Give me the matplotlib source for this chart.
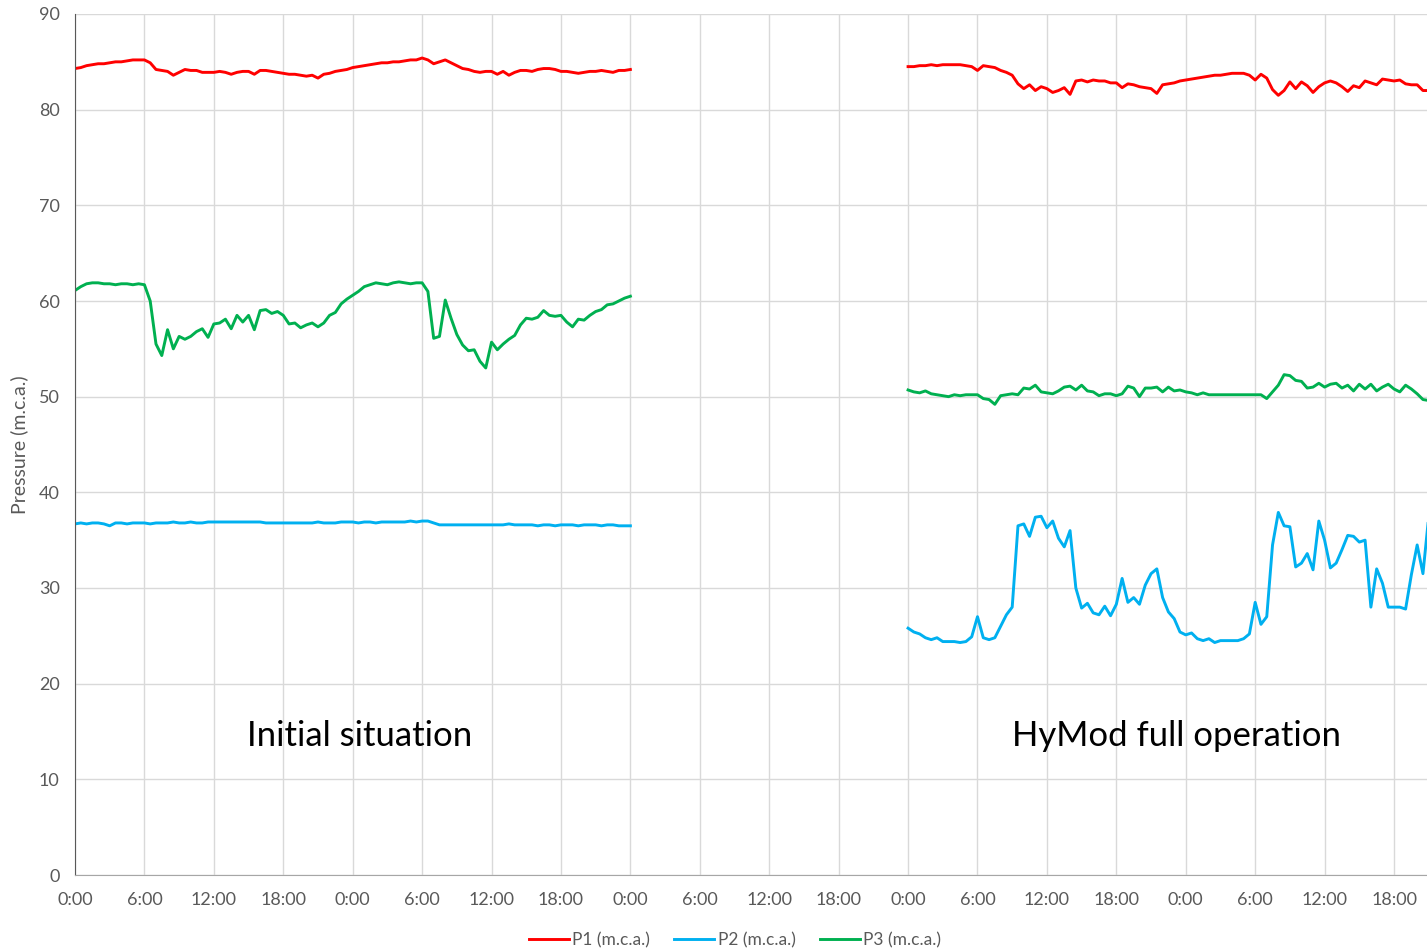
import numpy as np
import matplotlib.pyplot as plt

# half-hourly readings, first period (0h - 48h)
p1_inicial = [84.3, 84.4, 84.6, 84.7, 84.8, 84.8, 84.9, 85.0, 85.0, 85.1,
              85.2, 85.2, 85.2, 84.9, 84.2, 84.1, 84.0, 83.6, 83.9, 84.2,
              84.1, 84.1, 83.9, 83.9, 83.9, 84.0, 83.9, 83.7, 83.9, 84.0,
              84.0, 83.7, 84.1, 84.1, 84.0, 83.9, 83.8, 83.7, 83.7, 83.6,
              83.5, 83.6, 83.3, 83.7, 83.8, 84.0, 84.1, 84.2, 84.4, 84.5,
              84.6, 84.7, 84.8, 84.9, 84.9, 85.0, 85.0, 85.1, 85.2, 85.2,
              85.4, 85.2, 84.8, 85.0, 85.2, 84.9, 84.6, 84.3, 84.2, 84.0,
              83.9, 84.0, 84.0, 83.7, 84.0, 83.6, 83.9, 84.1, 84.1, 84.0,
              84.2, 84.3, 84.3, 84.2, 84.0, 84.0, 83.9, 83.8, 83.9, 84.0,
              84.0, 84.1, 84.0, 83.9, 84.1, 84.1, 84.2]
p2_inicial = [36.7, 36.8, 36.7, 36.8, 36.8, 36.7, 36.5, 36.8, 36.8, 36.7,
              36.8, 36.8, 36.8, 36.7, 36.8, 36.8, 36.8, 36.9, 36.8, 36.8,
              36.9, 36.8, 36.8, 36.9, 36.9, 36.9, 36.9, 36.9, 36.9, 36.9,
              36.9, 36.9, 36.9, 36.8, 36.8, 36.8, 36.8, 36.8, 36.8, 36.8,
              36.8, 36.8, 36.9, 36.8, 36.8, 36.8, 36.9, 36.9, 36.9, 36.8,
              36.9, 36.9, 36.8, 36.9, 36.9, 36.9, 36.9, 36.9, 37.0, 36.9,
              37.0, 37.0, 36.8, 36.6, 36.6, 36.6, 36.6, 36.6, 36.6, 36.6,
              36.6, 36.6, 36.6, 36.6, 36.6, 36.7, 36.6, 36.6, 36.6, 36.6,
              36.5, 36.6, 36.6, 36.5, 36.6, 36.6, 36.6, 36.5, 36.6, 36.6,
              36.6, 36.5, 36.6, 36.6, 36.5, 36.5, 36.5]
p3_inicial = [61.1, 61.5, 61.8, 61.9, 61.9, 61.8, 61.8, 61.7, 61.8, 61.8,
              61.7, 61.8, 61.7, 60.0, 55.5, 54.3, 57.0, 55.0, 56.3, 56.0,
              56.3, 56.8, 57.1, 56.2, 57.6, 57.7, 58.1, 57.1, 58.5, 57.8,
              58.5, 57.0, 59.0, 59.1, 58.7, 58.9, 58.5, 57.6, 57.7, 57.2,
              57.5, 57.7, 57.3, 57.7, 58.5, 58.8, 59.7, 60.2, 60.6, 61.0,
              61.5, 61.7, 61.9, 61.8, 61.7, 61.9, 62.0, 61.9, 61.8, 61.9,
              61.9, 61.0, 56.1, 56.3, 60.1, 58.2, 56.5, 55.4, 54.8, 54.9,
              53.7, 53.0, 55.7, 54.9, 55.5, 56.0, 56.4, 57.5, 58.2, 58.1,
              58.3, 59.0, 58.5, 58.4, 58.5, 57.8, 57.3, 58.1, 58.0, 58.5,
              58.9, 59.1, 59.6, 59.7, 60.0, 60.3, 60.5]

# half-hourly readings, second period (72h - 117h)
p1_hymod = [84.5, 84.5, 84.6, 84.6, 84.7, 84.6, 84.7, 84.7, 84.7, 84.7,
            84.6, 84.5, 84.1, 84.6, 84.5, 84.4, 84.1, 83.9, 83.6, 82.7,
            82.2, 82.6, 82.0, 82.4, 82.2, 81.8, 82.0, 82.3, 81.6, 83.0,
            83.1, 82.9, 83.1, 83.0, 83.0, 82.8, 82.8, 82.3, 82.7, 82.6,
            82.4, 82.3, 82.2, 81.7, 82.6, 82.7, 82.8, 83.0, 83.1, 83.2,
            83.3, 83.4, 83.5, 83.6, 83.6, 83.7, 83.8, 83.8, 83.8, 83.6,
            83.1, 83.7, 83.3, 82.1, 81.5, 82.0, 82.9, 82.2, 82.9, 82.5,
            81.8, 82.4, 82.8, 83.0, 82.8, 82.4, 81.9, 82.5, 82.3, 83.0,
            82.8, 82.6, 83.2, 83.1, 83.0, 83.1, 82.7, 82.6, 82.6, 82.0,
            82.0]
p2_hymod = [25.8, 25.4, 25.2, 24.8, 24.6, 24.8, 24.4, 24.4, 24.4, 24.3,
            24.4, 24.9, 27.0, 24.8, 24.6, 24.8, 26.0, 27.2, 28.0, 36.5,
            36.7, 35.4, 37.4, 37.5, 36.3, 37.0, 35.2, 34.3, 36.0, 30.0,
            27.9, 28.4, 27.4, 27.2, 28.1, 27.1, 28.3, 31.0, 28.5, 29.0,
            28.3, 30.3, 31.5, 32.0, 29.0, 27.5, 26.8, 25.4, 25.1, 25.3,
            24.7, 24.5, 24.7, 24.3, 24.5, 24.5, 24.5, 24.5, 24.7, 25.2,
            28.5, 26.2, 27.0, 34.5, 37.9, 36.5, 36.4, 32.2, 32.6, 33.6,
            31.9, 37.0, 35.0, 32.1, 32.6, 34.0, 35.5, 35.4, 34.8, 35.0,
            28.0, 32.0, 30.5, 28.0, 28.0, 28.0, 27.8, 31.4, 34.5, 31.5,
            37.5]
p3_hymod = [50.7, 50.5, 50.4, 50.6, 50.3, 50.2, 50.1, 50.0, 50.2, 50.1,
            50.2, 50.2, 50.2, 49.8, 49.7, 49.2, 50.1, 50.2, 50.3, 50.2,
            50.9, 50.8, 51.2, 50.5, 50.4, 50.3, 50.6, 51.0, 51.1, 50.7,
            51.2, 50.6, 50.5, 50.1, 50.3, 50.3, 50.1, 50.3, 51.1, 50.9,
            50.0, 50.9, 50.9, 51.0, 50.5, 51.0, 50.6, 50.7, 50.5, 50.4,
            50.2, 50.4, 50.2, 50.2, 50.2, 50.2, 50.2, 50.2, 50.2, 50.2,
            50.2, 50.2, 49.8, 50.5, 51.2, 52.3, 52.2, 51.7, 51.6, 50.9,
            51.0, 51.4, 51.0, 51.3, 51.4, 50.9, 51.2, 50.6, 51.3, 50.8,
            51.3, 50.6, 51.0, 51.3, 50.8, 50.5, 51.2, 50.8, 50.3, 49.7,
            49.6]

t_inicial = np.arange(len(p1_inicial)) * 0.5          # hours
t_hymod = 72 + np.arange(len(p1_hymod)) * 0.5

series = ['P1 (m.c.a.)', 'P2 (m.c.a.)', 'P3 (m.c.a.)']
cores = ['#FF0000', '#00B0F0', '#00B050']
textos = ['Initial situation', 'HyMod full operation']

plt.rcParams['font.family'] = ['Lato', 'DejaVu Sans']
cinza = '#595959'

fig = plt.figure(figsize=(14.27, 9.5), dpi=100)
ax = fig.add_axes([75 / 1427, 75 / 950, 1352 / 1427, 861 / 950])

dados = [(p1_inicial, p1_hymod), (p2_inicial, p2_hymod), (p3_inicial, p3_hymod)]
for (ini, hym), nome, cor in zip(dados, series, cores):
    ax.plot(t_inicial, ini, color=cor, lw=2.1, label=nome)
    ax.plot(t_hymod, hym, color=cor, lw=2.1)

ax.set_xlim(0, 116.85)
ax.set_ylim(0, 90)
ticks = np.arange(0, 116, 6)
ax.set_xticks(ticks)
ax.set_xticklabels([f'{int(h) % 24}:00' for h in ticks])
ax.set_yticks(np.arange(0, 91, 10))
ax.grid(True, color='#d9d9d9', lw=1.0)
ax.set_axisbelow(True)
ax.tick_params(length=0, labelsize=13, labelcolor=cinza)
ax.tick_params(axis='y', pad=11)
ax.tick_params(axis='x', pad=12)
for lado in ['top', 'right']:
    ax.spines[lado].set_visible(False)
ax.spines['left'].set_color(cinza)
ax.spines['bottom'].set_color('#a6a6a6')
ax.set_ylabel('Pressure (m.c.a.)', fontsize=14, color=cinza, labelpad=8)

ax.text(24.6, 14.5, textos[0], fontsize=25, ha='center', va='center', color='black')
ax.text(95.2, 14.5, textos[1], fontsize=25, ha='center', va='center', color='black')

leg = fig.legend(loc='center', bbox_to_anchor=(735 / 1427, 1 - 940 / 950), ncol=3,
                 frameon=False, fontsize=12.5, handlelength=2.3, handletextpad=0.2,
                 columnspacing=1.4)
for txt in leg.get_texts():
    txt.set_color(cinza)

fig.savefig('out.png', dpi=100)
